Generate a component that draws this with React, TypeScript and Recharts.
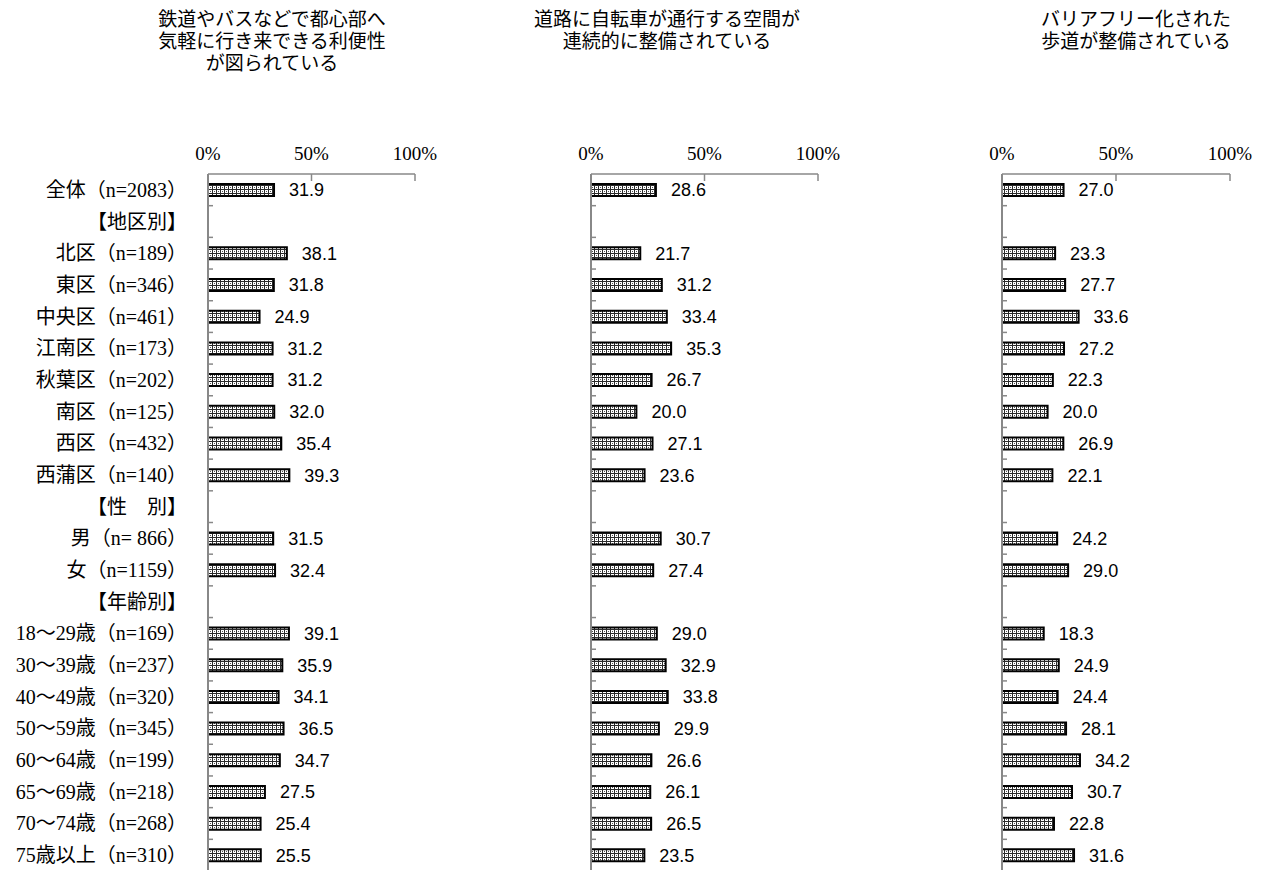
import React from 'react';
import { BarChart, Bar, XAxis, YAxis, LabelList } from 'recharts';

// ---- data ----
const categories = [
  '全体（n=2083）',
  '【地区別】',
  '北区（n=189）',
  '東区（n=346）',
  '中央区（n=461）',
  '江南区（n=173）',
  '秋葉区（n=202）',
  '南区（n=125）',
  '西区（n=432）',
  '西蒲区（n=140）',
  '【性　別】',
  '男（n= 866）',
  '女（n=1159）',
  '【年齢別】',
  '18～29歳（n=169）',
  '30～39歳（n=237）',
  '40～49歳（n=320）',
  '50～59歳（n=345）',
  '60～64歳（n=199）',
  '65～69歳（n=218）',
  '70～74歳（n=268）',
  '75歳以上（n=310）',
];

const transitValues: (number | null)[] = [
  31.9, null, 38.1, 31.8, 24.9, 31.2, 31.2, 32.0, 35.4, 39.3, null, 31.5, 32.4, null,
  39.1, 35.9, 34.1, 36.5, 34.7, 27.5, 25.4, 25.5,
];
const bicycleValues: (number | null)[] = [
  28.6, null, 21.7, 31.2, 33.4, 35.3, 26.7, 20.0, 27.1, 23.6, null, 30.7, 27.4, null,
  29.0, 32.9, 33.8, 29.9, 26.6, 26.1, 26.5, 23.5,
];
const barrierFreeValues: (number | null)[] = [
  27.0, null, 23.3, 27.7, 33.6, 27.2, 22.3, 20.0, 26.9, 22.1, null, 24.2, 29.0, null,
  18.3, 24.9, 24.4, 28.1, 34.2, 30.7, 22.8, 31.6,
];

const xTicks = [0, 50, 100];

const transitTitle = ['鉄道やバスなどで都心部へ', '気軽に行き来できる利便性', 'が図られている'];
const bicycleTitle = ['道路に自転車が通行する空間が', '連続的に整備されている'];
const barrierFreeTitle = ['バリアフリー化された', '歩道が整備されている'];

// ---- layout / style ----
const SERIF = "'Liberation Serif', 'Noto Sans CJK JP', serif";
const SANS = "'Liberation Sans', Arial, sans-serif";
const AXIS = '#888888';
const CHART_H = 880;
const PLOT_TOP = 174;
const PLOT_H = 697;
const XAXIS_H = 30;

const TopTick = (props: any) => {
  const { x, y, payload } = props;
  return (
    <g>
      <text x={x} y={y - 14} textAnchor="middle" fontSize={19} fontFamily={SERIF} fill="#000">
        {`${payload.value}%`}
      </text>
      {payload.value !== 0 && (
        <line x1={x} x2={x} y1={y} y2={y + 7} stroke={AXIS} strokeWidth={1.5} />
      )}
    </g>
  );
};

type PanelProps = {
  id: string;
  left: number;
  width: number;
  axisLeft: number;
  plotWidth: number;
  values: (number | null)[];
  showNames: boolean;
  title: string[];
  titleCenter: number;
};

function Panel({ id, left, width, axisLeft, plotWidth, values, showNames, title, titleCenter }: PanelProps) {
  const data = categories.map((name, i) => ({ name, value: values[i] }));
  const band = PLOT_H / categories.length;
  const sideTick = (props: any) => {
    const { x, y, payload } = props;
    return (
      <g>
        {showNames && (
          <text
            x={x - 21}
            y={y}
            textAnchor="end"
            dominantBaseline="central"
            fontSize={20}
            fontFamily={SERIF}
            fill="#000"
          >
            {payload.value}
          </text>
        )}
        <line x1={x} x2={x + 5} y1={y + band / 2} y2={y + band / 2} stroke={AXIS} strokeWidth={1.5} />
      </g>
    );
  };
  return (
    <div style={{ position: 'absolute', left, top: 0, width, height: CHART_H }}>
      <div
        style={{
          position: 'absolute',
          left: titleCenter - left - 200,
          width: 400,
          top: 9,
          textAlign: 'center',
          fontFamily: SERIF,
          fontSize: 19,
          lineHeight: '22px',
          color: '#000',
          whiteSpace: 'nowrap',
        }}
      >
        {title.map((t) => (
          <div key={t}>{t}</div>
        ))}
      </div>
      <BarChart
        width={width}
        height={CHART_H}
        data={data}
        layout="vertical"
        barSize={12}
        margin={{
          top: PLOT_TOP - XAXIS_H,
          right: width - axisLeft - plotWidth,
          bottom: CHART_H - PLOT_TOP - PLOT_H,
          left: 0,
        }}
      >
        <defs>
          <pattern id={id} width="4" height="4" patternUnits="userSpaceOnUse">
            <rect width="4" height="4" fill="#ffffff" />
            <rect x="0" y="0" width="1" height="4" fill="#2a2a2a" />
            <rect x="1" y="1" width="3" height="1" fill="#2a2a2a" />
            <rect x="2" y="3" width="1" height="1" fill="#555555" />
          </pattern>
        </defs>
        <XAxis
          type="number"
          orientation="top"
          domain={[0, 100]}
          ticks={xTicks}
          interval={0}
          height={XAXIS_H}
          tickSize={0}
          tickMargin={0}
          tickLine={false}
          axisLine={{ stroke: AXIS, strokeWidth: 1.5 }}
          tick={TopTick}
        />
        <YAxis
          type="category"
          dataKey="name"
          width={axisLeft}
          interval={0}
          tickSize={0}
          tickMargin={0}
          tickLine={false}
          axisLine={{ stroke: AXIS, strokeWidth: 2 }}
          tick={sideTick}
        />
        <Bar dataKey="value" fill={`url(#${id})`} stroke="#000" strokeWidth={2} isAnimationActive={false}>
          <LabelList
            dataKey="value"
            position="right"
            offset={15}
            fill="#000"
            fontSize={18}
            fontFamily={SANS}
            formatter={(v: any) => (v == null ? '' : Number(v).toFixed(1))}
          />
        </Bar>
      </BarChart>
    </div>
  );
}

export default function App() {
  return (
    <div
      style={{
        position: 'absolute',
        left: 0,
        top: 0,
        width: 1262,
        height: 870,
        overflow: 'hidden',
        background: '#fff',
      }}
    >
      <Panel id="patA" left={0} width={440} axisLeft={208} plotWidth={207} values={transitValues} showNames title={transitTitle} titleCenter={272} />
      <Panel id="patB" left={450} width={400} axisLeft={141} plotWidth={227} values={bicycleValues} showNames={false} title={bicycleTitle} titleCenter={667} />
      <Panel id="patC" left={860} width={402} axisLeft={142} plotWidth={228} values={barrierFreeValues} showNames={false} title={barrierFreeTitle} titleCenter={1136} />
    </div>
  );
}
